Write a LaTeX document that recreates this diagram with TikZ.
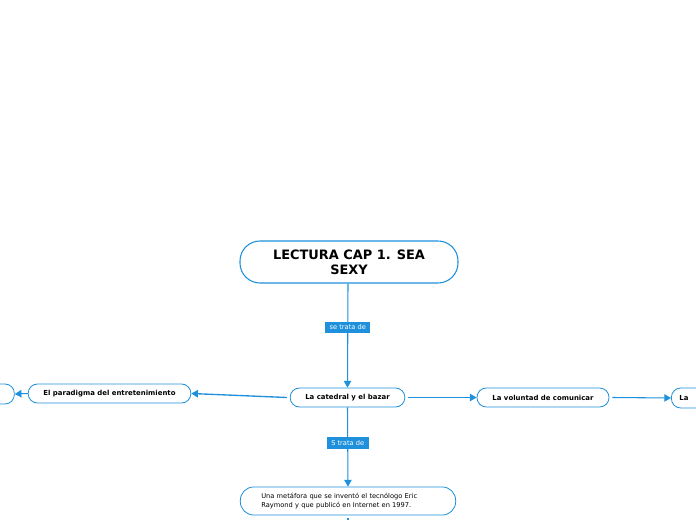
\documentclass[tikz,border=0pt]{standalone}
\usepackage{fontspec}
\setmainfont{DejaVu Sans}
\usetikzlibrary{arrows.meta}
\definecolor{mblue}{RGB}{30,144,220}
\tikzset{
  topic/.style={draw=mblue, line width=0.8pt, fill=white, rounded corners=15pt, font=\bfseries\fontsize{9.7}{11.5}\selectfont, align=center, inner sep=0pt},
  sub/.style={draw=mblue, line width=0.6pt, fill=white, rounded corners=7pt, font=\bfseries\fontsize{5.2}{6}\selectfont, inner sep=0pt},
  conn/.style={draw=mblue, line width=0.8pt, -{Triangle[length=5pt,width=5.5pt]}},
  lbl/.style={fill=mblue, text=white, font=\fontsize{5}{6}\selectfont, inner sep=0pt, minimum height=8.5pt},
}
\begin{document}
\begin{tikzpicture}[x=0.75pt,y=-0.75pt]
\useasboundingbox (0,0) rectangle (696,520);
\clip (0,0) rectangle (696,520);
\node[topic, minimum width=163.5pt, minimum height=31.5pt] (main) at (349,262) {LECTURA CAP 1. SEA\\SEXY};
\node[sub, minimum width=86pt, minimum height=14.25pt] (cat) at (347.5,397.5) {La catedral y el bazar};
\node[sub, minimum width=122pt, minimum height=14.25pt] (par) at (109.5,393.5) {El paradigma del entretenimiento};
\node[sub, minimum width=122pt, minimum height=15pt] (far) at (-67,394) {};
\node[sub, minimum width=99pt, minimum height=14.25pt] (vol) at (543,397.5) {La voluntad de comunicar};
\node[sub, minimum width=122pt, minimum height=15pt, anchor=west, text width=110pt, align=left] (farr) at (671,398) {La};
\node[sub, font=\fontsize{5}{6.75}\selectfont, minimum width=161.5pt, minimum height=21pt, text width=130pt, align=left, rounded corners=10pt] (una) at (348,501) {Una metáfora que se inventó el tecnólogo Eric\\Raymond y que publicó en Internet en 1997.};
\coordinate (below1) at (348,518);
\coordinate (below2) at (348,530);
\draw[conn] (main.south -| 348,0) -- node[lbl, minimum width=34pt, pos=0.42] {se trata de} (cat.north);
\draw[conn] (cat.south) -- node[lbl, minimum width=31.5pt, pos=0.45] {S trata de} (una.north);
\draw[conn, line width=1pt] (cat.west) ++(-3,0) -- (par.east);
\draw[conn] (par.west) -- (far.east);
\draw[conn] (cat.east) ++(3,0) -- (vol.west);
\draw[conn] (vol.east) ++(3,0) -- (farr.west);
\draw[draw=mblue, line width=0.8pt] (below1) -- (below2);
\end{tikzpicture}
\end{document}
